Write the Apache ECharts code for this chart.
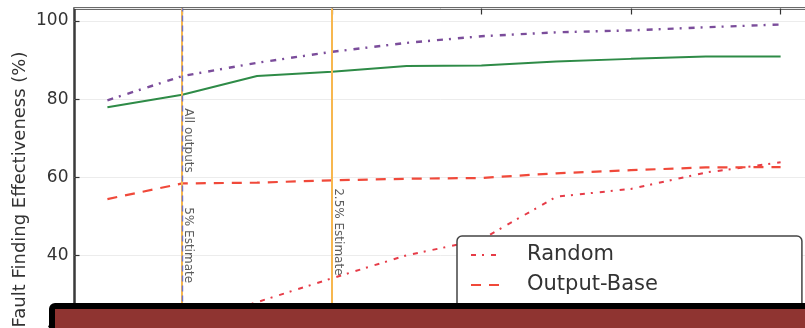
<!DOCTYPE html>
<html>
<head>
<meta charset="utf-8">
<script src="https://cdn.jsdelivr.net/npm/echarts@6/dist/echarts.min.js"></script>
<style>
  html, body { margin: 0; padding: 0; background: #fff; }
  #chart { width: 805px; height: 328px; }
</style>
</head>
<body>
<div id="chart"></div>
<script>
// Sample positions along the x axis (one point per half step)
const xPoints = [0.5, 1, 1.5, 2, 2.5, 3, 3.5, 4, 4.5, 5];

// Fault finding effectiveness (%) per series
const randomVals     = [16, 22, 28, 34.1, 40, 44, 55, 57, 61.2, 63.8];
const outputBaseVals = [54.4, 58.4, 58.6, 59.2, 59.6, 59.8, 61.0, 61.8, 62.5, 62.6];
const solidVals      = [77.9, 81.1, 85.9, 87.0, 88.5, 88.6, 89.6, 90.3, 90.9, 90.9];
const upperVals      = [79.7, 85.9, 89.3, 92.1, 94.4, 96.1, 97.1, 97.6, 98.4, 99.1];

// Vertical reference lines and their rotated captions
const refLineX      = [1, 2];
const captionText   = ['All outputs', '5% Estimate', '2.5% Estimate'];
const captionX      = [1, 1, 2];
const captionY      = [69.4, 42.6, 46];

const yTickStep = 20;
const yMin = 0, yMax = 103.2;
const xMin = 0.28, xMax = 5.25;

const FONT = 'DejaVu Sans';
const pxPerX = 149.6;
const pxPerY = 3.905;
const gridLeft = 74.5, gridTop = 8.5;

const pairs = vals => vals.map((v, i) => [xPoints[i], v]);

const chart = echarts.init(document.getElementById('chart'), null, { renderer: 'canvas' });

chart.setOption({
  animation: false,
  backgroundColor: '#fff',
  grid: [
    {
      left: gridLeft, top: gridTop,
      width: (xMax - xMin) * pxPerX,
      height: (yMax - yMin) * pxPerY,
      outerBoundsMode: 'none',
      containLabel: false,
      show: true, borderColor: '#3a3a3a', borderWidth: 2.5,
      backgroundColor: 'transparent'
    },
    {
      // carries the integer ticks along the top edge
      left: gridLeft + (1 - xMin) * pxPerX, top: gridTop,
      width: (xMax - 1) * pxPerX, height: 20,
      outerBoundsMode: 'none',
      containLabel: false
    }
  ],
  xAxis: [
    {
      type: 'value', gridIndex: 0, min: xMin, max: xMax,
      axisLine: { show: false }, axisTick: { show: false },
      axisLabel: { show: false }, splitLine: { show: false }
    },
    {
      type: 'value', gridIndex: 1, position: 'top', min: 1, max: xMax, interval: 1,
      axisLine: { show: false, onZero: false },
      axisTick: { show: true, inside: true, length: 6, lineStyle: { color: '#333', width: 1.2 } },
      axisLabel: { show: false }, splitLine: { show: false }
    }
  ],
  yAxis: [
    {
      type: 'value', gridIndex: 0, min: yMin, max: yMax, interval: yTickStep,
      axisLine: { show: false },
      axisTick: { show: true, inside: true, length: 5, lineStyle: { color: '#333', width: 1.2 } },
      axisLabel: { color: '#333', fontSize: 17, fontFamily: FONT, margin: 6, showMaxLabel: false },
      splitLine: { show: true, lineStyle: { color: '#ececec', width: 1 } }
    },
    { type: 'value', gridIndex: 1, min: 0, max: 1, show: false }
  ],
  legend: {
    orient: 'vertical',
    left: 457, top: 236,
    data: ['Random', 'Output-Base'],
    itemWidth: 28, itemHeight: 14, itemGap: 6,
    padding: [7, 144, 26, 13],
    backgroundColor: '#fff',
    borderColor: '#444', borderWidth: 1.5, borderRadius: 5,
    itemStyle: { opacity: 0 },
    textStyle: { fontSize: 21, color: '#333', fontFamily: FONT, lineHeight: 24, padding: [0, 0, 0, 23] },
    selectedMode: false
  },
  series: [
    {
      name: 'Reference lines',
      type: 'scatter',
      xAxisIndex: 0, yAxisIndex: 0,
      symbolSize: 1,
      itemStyle: { color: 'transparent' },
      silent: true,
      z: 1,
      data: captionText.map((t, i) => ({ value: [captionX[i], captionY[i]], name: t })),
      label: {
        show: true,
        position: 'inside',
        rotate: -90,
        align: 'center',
        verticalAlign: 'bottom',
        formatter: p => p.name,
        color: '#333', fontSize: 12, fontFamily: FONT
      },
      markLine: {
        silent: true, symbol: ['none', 'none'],
        label: { show: false },
        data: [
          { xAxis: refLineX[0], lineStyle: { color: '#f7b74f', width: 2, type: 'solid' } },
          { xAxis: refLineX[0], lineStyle: { color: '#6f72c8', width: 1.4, type: [6, 4] } },
          { xAxis: refLineX[1], lineStyle: { color: '#f7b74f', width: 2, type: 'solid' } }
        ]
      }
    },
    {
      name: 'Random', type: 'line', symbol: 'none', z: 3,
      data: pairs(randomVals),
      itemStyle: { color: '#e63c48' },
      lineStyle: { color: '#e63c48', width: 2, type: [5, 6, 2, 7] }
    },
    {
      name: 'Output-Base', type: 'line', symbol: 'none', z: 3,
      data: pairs(outputBaseVals),
      itemStyle: { color: '#f0493a' },
      lineStyle: { color: '#f0493a', width: 2.2, type: [10, 8] }
    },
    {
      name: 'Series 3', type: 'line', symbol: 'none', z: 3,
      data: pairs(solidVals),
      lineStyle: { color: '#2e8b47', width: 2, type: 'solid' }
    },
    {
      name: 'Series 4', type: 'line', symbol: 'none', z: 3,
      data: pairs(upperVals),
      lineStyle: { color: '#7b4d9b', width: 2.4, type: [6, 6, 2, 7] }
    }
  ],
  graphic: [
    {
      type: 'text',
      x: 20, y: 189.5,
      rotation: Math.PI / 2,
      style: {
        text: 'Fault Finding Effectiveness (%)',
        fill: '#333', fontSize: 18, fontFamily: FONT,
        align: 'center', verticalAlign: 'middle'
      }
    },
    {
      type: 'rect',
      z: 100,
      shape: { x: 52, y: 306, width: 800, height: 80, r: 3 },
      style: { fill: '#8f3431', stroke: '#000', lineWidth: 6 }
    }
  ]
});
</script>
</body>
</html>
